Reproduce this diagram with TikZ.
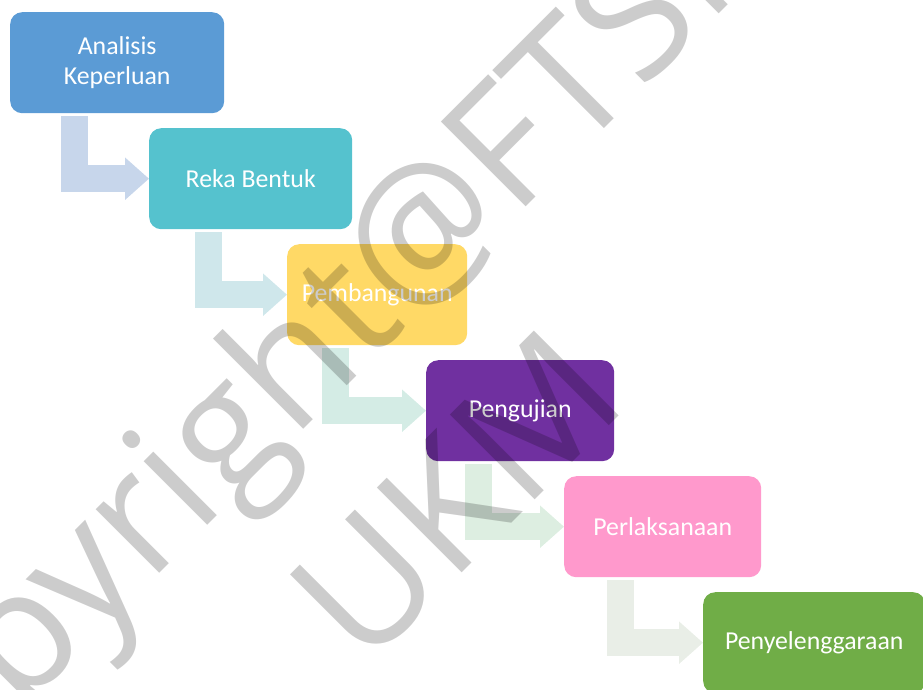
\documentclass[tikz,border=0pt]{standalone}
\usepackage{fontspec}
\setmainfont{Carlito}
\newfontfamily\markfont{Open Sans}
\usetikzlibrary{arrows.meta}

\definecolor{cAnal}{HTML}{5B9BD5}
\definecolor{cReka}{HTML}{55C2CE}
\definecolor{cBina}{HTML}{FFD966}
\definecolor{cUji}{HTML}{7030A0}
\definecolor{cLaksana}{HTML}{FF99CC}
\definecolor{cSelia}{HTML}{70AD47}
\definecolor{aOne}{HTML}{C7D6EB}
\definecolor{aTwo}{HTML}{CFE7EB}
\definecolor{aThree}{HTML}{D4ECE5}
\definecolor{aFour}{HTML}{DDEEE1}
\definecolor{aFive}{HTML}{E9EEE7}

\begin{document}
\begin{tikzpicture}
[x=1pt,y=-1pt,
 stageBox/.style={rounded corners=12pt,minimum height=101pt,anchor=north west,
   inner sep=0pt,text=white,align=center,font=\fontsize{25.8}{30}\selectfont},
 stepArrow/.style={line width=27pt,-{Triangle[length=24pt,width=41pt]}},
 waterMark/.style={rotate=45,anchor=base west,text=black,text opacity=0.2,
   font=\markfont\fontsize{168}{168}\selectfont}]
\clip (0,0) rectangle (923,689);
%% stages of the waterfall
\foreach \nodename/\txt/\col/\x/\y/\w in {
  anal/{Analisis\\Keperluan}/cAnal/10/12/214,
  reka/Reka Bentuk/cReka/149/128/203,
  bina/Pembangunan/cBina/287/244/180,
  uji/Pengujian/cUji/426/360/188,
  laksana/Perlaksanaan/cLaksana/564/476/197,
  selia/Penyelenggaraan/cSelia/703/592/222}
{
  \node (\nodename) at (\x,\y) [stageBox,fill=\col,minimum width=\w pt] {\txt};
}
%% bent arrows between stages
\foreach \startnode/\endnode/\dx/\col in {
  anal/reka/64.5/aOne, reka/bina/59.5/aTwo, bina/uji/48/aThree,
  uji/laksana/52.5/aFour, laksana/selia/56.5/aFive}
{
  \draw[stepArrow,draw=\col] ([xshift=\dx pt,yshift=-3pt]\startnode.south west) |- (\endnode.west);
}
%% watermark
\node (markone) at (-130,863) [waterMark] {Copyright@FTSM};
\node (marktwo) at (362,673) [waterMark] {UKM};
\end{tikzpicture}
\end{document}
